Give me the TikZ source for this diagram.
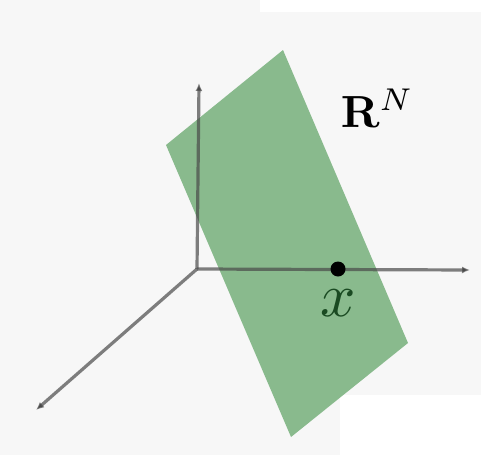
\documentclass[tikz,border=0pt]{standalone}
\usepackage{amsmath, amssymb}
\usepackage{xcolor}
\usepackage{tikz}
\usetikzlibrary{positioning,arrows.meta,calc}
\definecolor{bggray}{HTML}{F7F7F7}
\definecolor{planegreen}{HTML}{89BA8D}
\definecolor{axisgray}{HTML}{4A4A4A}
\definecolor{labelgreen}{HTML}{1A4A22}
\begin{document}
\begin{tikzpicture}[x=1pt, y=-1pt, axis/.style={draw=axisgray, draw opacity=0.7, line width=3.2pt, -{Latex[length=8pt,width=7pt]}}]
\useasboundingbox (0,0) rectangle (481,455);
\fill[bggray] (0,0) rectangle (481,455);
\fill[white] (260,0) rectangle (481,12);
\fill[white] (340,395) rectangle (481,455);
\fill[planegreen] (283,50) -- (408,343) -- (291,437) -- (166,145) -- cycle;
\coordinate (o) at (197,269);
\coordinate (up) at (199,83);
\coordinate (right) at (470,270);
\coordinate (down) at (36,410);
\draw[axis] (o) -- (up);
\draw[axis] (o) -- (right);
\draw[axis] (o) -- (down);
\fill[black] (338,269) circle (7.5pt) coordinate (xpt);
\node[scale=6.2, text=labelgreen] (xlab) at (338,303) {$x$};
\node[scale=4.5, anchor=base west, inner sep=0pt] (space) at (340,127) {$\mathbf{R}^N$};
\end{tikzpicture}
\end{document}
